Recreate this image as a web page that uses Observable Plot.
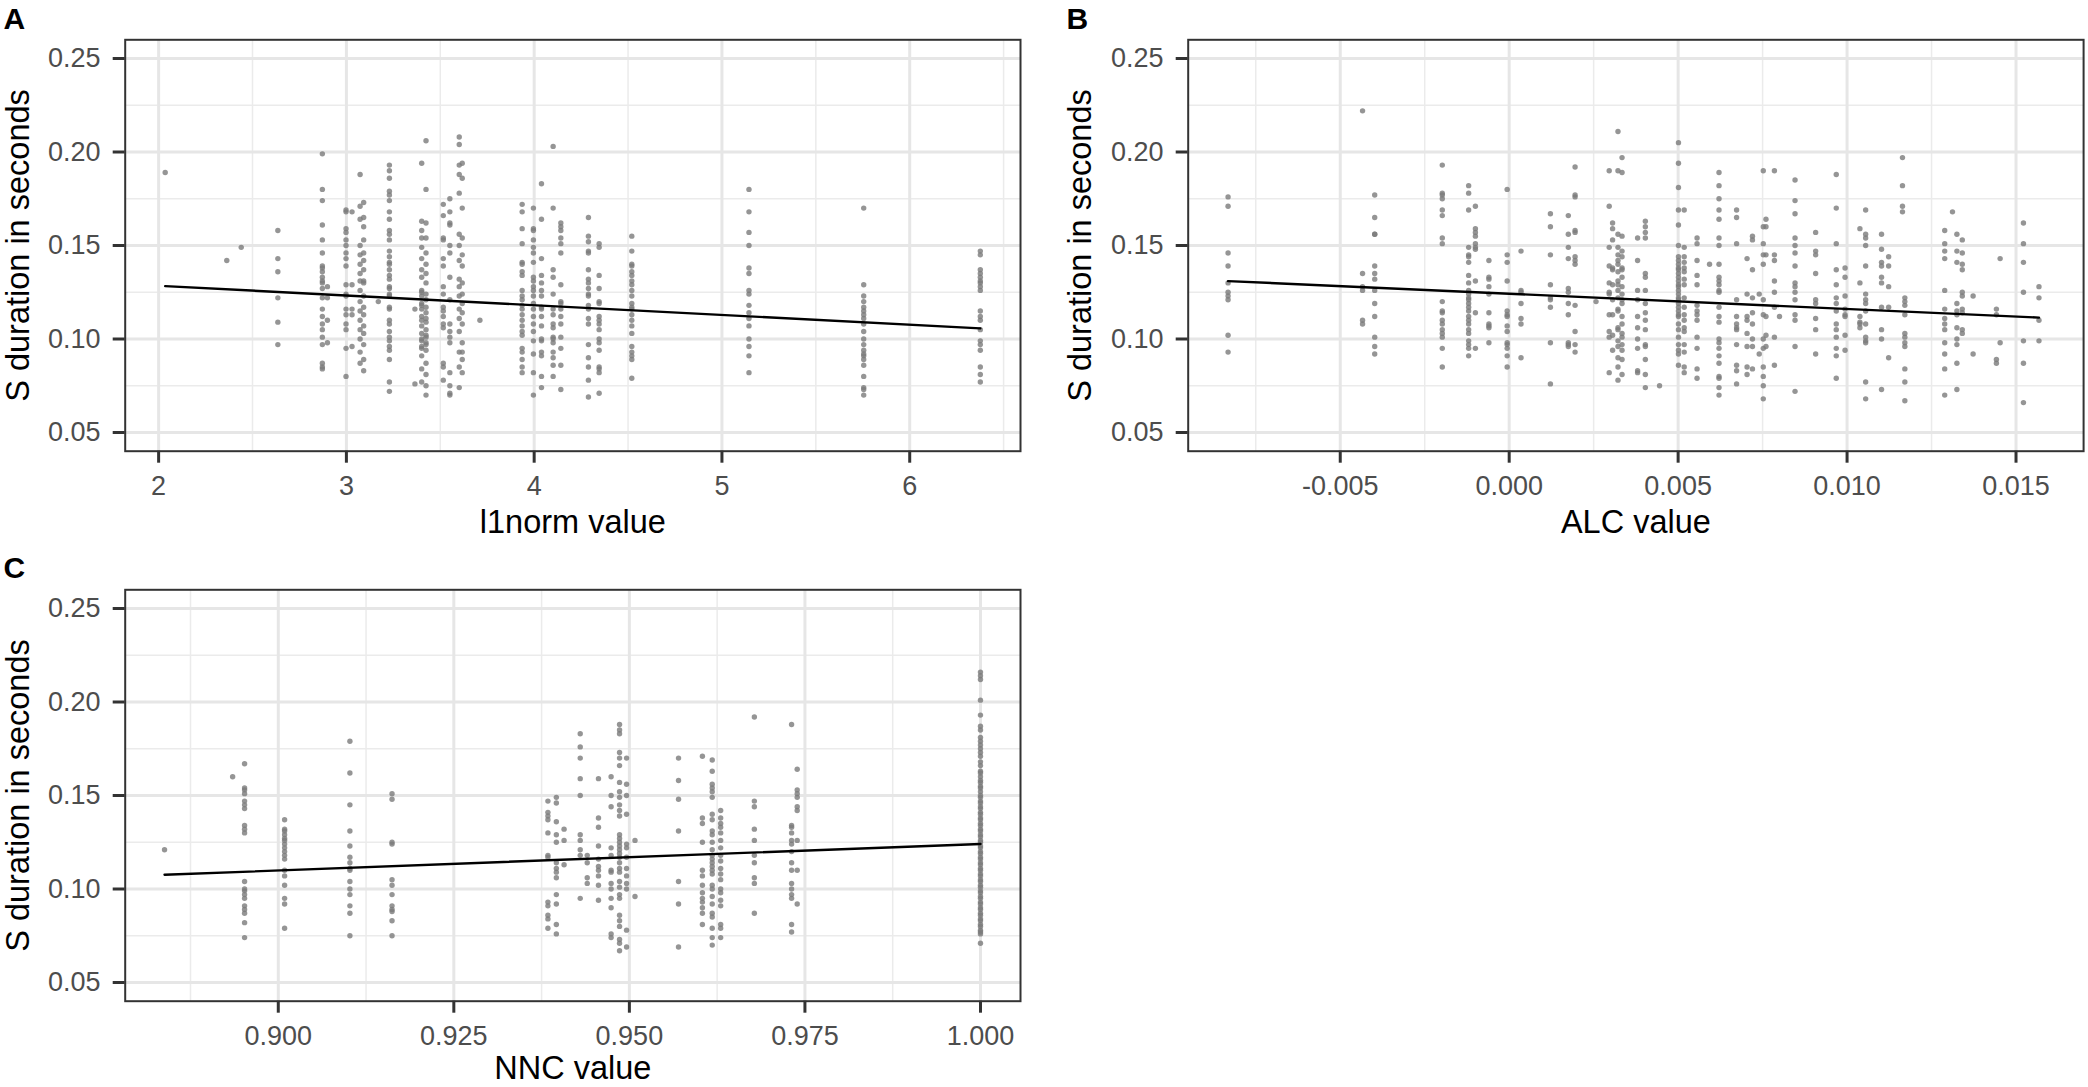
<!DOCTYPE html>
<html><head><meta charset="utf-8">
<script src="https://cdn.jsdelivr.net/npm/d3@7"></script>
<script src="https://cdn.jsdelivr.net/npm/@observablehq/plot@0.6"></script>
<style>
html,body{margin:0;padding:0;background:#fff;}
#root{position:relative;width:2088px;height:1087px;overflow:hidden;font-family:"Liberation Sans",Arial,sans-serif;}
#root svg{position:absolute;}
</style></head><body><div id="root"></div>
<script>
// ---------- shared y axis ----------
const yTitle = "S duration in seconds";
const yDomain = [0.04, 0.26];
const yTicks = [0.05, 0.10, 0.15, 0.20, 0.25];
const yMinor = [0.075, 0.125, 0.175, 0.225];

// ---------- Panel A: l1norm ----------
const l1normTitle = "l1norm value";
const l1normDomain = [1.822, 6.59];
const l1normTicks = [2, 3, 4, 5, 6];
const l1normMinor = [2.5, 3.5, 4.5, 5.5, 6.5];
const l1normFit = [0.1389, -0.00521]; // intercept, slope
const l1normX = [2.035, 2.363, 2.44, 2.635, 2.872, 2.899, 2.998, 3.03, 3.073, 3.092, 3.17, 3.229, 3.365, 3.401, 3.424, 3.516, 3.551, 3.601, 3.617, 3.711, 3.936, 3.996, 4.039, 4.101, 4.142, 4.289, 4.346, 4.52, 5.144, 5.755, 6.376];
const l1normY = [
  [0.189],
  [0.142],
  [0.149],
  [0.158, 0.143, 0.136, 0.122, 0.109, 0.097],
  [0.199, 0.180, 0.174, 0.161, 0.153, 0.146, 0.139, 0.138, 0.136, 0.133, 0.131, 0.130, 0.127, 0.122, 0.116, 0.112, 0.108, 0.105, 0.101, 0.097, 0.087, 0.085, 0.084],
  [0.128, 0.122, 0.110, 0.098],
  [0.169, 0.168, 0.159, 0.157, 0.153, 0.150, 0.146, 0.143, 0.139, 0.129, 0.124, 0.123, 0.116, 0.113, 0.108, 0.105, 0.095, 0.080],
  [0.168, 0.129, 0.116, 0.113, 0.096],
  [0.188, 0.171, 0.164, 0.150, 0.145, 0.140, 0.135, 0.131, 0.126, 0.120, 0.115, 0.110, 0.105, 0.100, 0.093, 0.087],
  [0.173, 0.165, 0.160, 0.153, 0.146, 0.142, 0.137, 0.131, 0.130, 0.123, 0.117, 0.113, 0.107, 0.103, 0.097, 0.089, 0.083],
  [0.120],
  [0.193, 0.190, 0.186, 0.179, 0.177, 0.174, 0.168, 0.164, 0.158, 0.156, 0.153, 0.147, 0.144, 0.141, 0.140, 0.137, 0.134, 0.132, 0.128, 0.127, 0.124, 0.123, 0.117, 0.116, 0.110, 0.108, 0.104, 0.101, 0.099, 0.096, 0.094, 0.089, 0.077, 0.072],
  [0.116, 0.076],
  [0.194, 0.163, 0.158, 0.154, 0.149, 0.143, 0.137, 0.133, 0.126, 0.123, 0.119, 0.116, 0.112, 0.107, 0.103, 0.100, 0.096, 0.091, 0.084, 0.077, 0.110, 0.099, 0.095, 0.118, 0.125],
  [0.206, 0.180, 0.162, 0.154, 0.146, 0.140, 0.135, 0.130, 0.124, 0.121, 0.117, 0.114, 0.109, 0.105, 0.101, 0.098, 0.094, 0.087, 0.081, 0.075, 0.070, 0.097, 0.102, 0.111],
  [0.172, 0.166, 0.154, 0.153, 0.143, 0.139, 0.128, 0.124, 0.117, 0.115, 0.112, 0.108, 0.106, 0.087, 0.085, 0.078],
  [0.175, 0.168, 0.162, 0.161, 0.150, 0.146, 0.133, 0.121, 0.108, 0.104, 0.101, 0.098, 0.082, 0.075, 0.071, 0.070],
  [0.208, 0.204, 0.193, 0.188, 0.178, 0.156, 0.150, 0.142, 0.132, 0.128, 0.123, 0.116, 0.111, 0.104, 0.093, 0.085, 0.074],
  [0.194, 0.186, 0.170, 0.154, 0.145, 0.139, 0.130, 0.124, 0.119, 0.114, 0.108, 0.098, 0.093, 0.089, 0.082],
  [0.110],
  [0.172, 0.168, 0.159, 0.151, 0.141, 0.140, 0.136, 0.134, 0.126, 0.123, 0.121, 0.118, 0.116, 0.113, 0.110, 0.107, 0.104, 0.102, 0.095, 0.093, 0.089, 0.085, 0.082],
  [0.170, 0.159, 0.158, 0.153, 0.149, 0.146, 0.141, 0.133, 0.131, 0.128, 0.126, 0.123, 0.119, 0.116, 0.112, 0.108, 0.104, 0.099, 0.092, 0.082, 0.070],
  [0.183, 0.164, 0.143, 0.134, 0.130, 0.126, 0.123, 0.117, 0.116, 0.112, 0.107, 0.100, 0.099, 0.093, 0.091, 0.080, 0.074],
  [0.203, 0.170, 0.137, 0.133, 0.124, 0.116, 0.113, 0.108, 0.106, 0.101, 0.100, 0.098, 0.093, 0.090, 0.086, 0.080],
  [0.162, 0.160, 0.158, 0.154, 0.151, 0.146, 0.129, 0.120, 0.119, 0.116, 0.112, 0.108, 0.101, 0.095, 0.086, 0.073],
  [0.165, 0.155, 0.152, 0.147, 0.146, 0.137, 0.132, 0.130, 0.127, 0.124, 0.123, 0.118, 0.116, 0.111, 0.108, 0.097, 0.090, 0.085, 0.078, 0.069],
  [0.151, 0.149, 0.134, 0.127, 0.120, 0.119, 0.112, 0.110, 0.108, 0.105, 0.100, 0.098, 0.094, 0.085, 0.084, 0.082, 0.071],
  [0.155, 0.147, 0.140, 0.139, 0.136, 0.134, 0.131, 0.129, 0.126, 0.123, 0.119, 0.117, 0.116, 0.113, 0.110, 0.107, 0.103, 0.096, 0.093, 0.091, 0.089, 0.079],
  [0.180, 0.168, 0.157, 0.150, 0.138, 0.135, 0.126, 0.124, 0.118, 0.114, 0.111, 0.107, 0.100, 0.096, 0.091, 0.082],
  [0.170, 0.129, 0.123, 0.120, 0.117, 0.115, 0.113, 0.111, 0.108, 0.104, 0.100, 0.097, 0.094, 0.092, 0.091, 0.089, 0.086, 0.080, 0.074, 0.073, 0.070],
  [0.147, 0.145, 0.137, 0.135, 0.133, 0.131, 0.130, 0.128, 0.126, 0.115, 0.112, 0.110, 0.105, 0.099, 0.097, 0.094, 0.085, 0.081, 0.077]
];

// ---------- Panel B: ALC ----------
const alcTitle = "ALC value";
const alcDomain = [-0.0095, 0.0170];
const alcTicks = [-0.005, 0, 0.005, 0.010, 0.015];
const alcMinor = [-0.0075, -0.0025, 0.0025, 0.0075, 0.0125];
const alcFit = [0.1242, -0.813];
const alcX = [-0.00832, -0.00434, -0.00398, -0.00198, -0.0012, -0.001, -0.0006, -0.00006, 0.00035, 0.00122, 0.00175, 0.00195, 0.00257, 0.00296, 0.00306, 0.00322, 0.00334, 0.0038, 0.00403, 0.00445, 0.00501, 0.00518, 0.00556, 0.00593, 0.00621, 0.00673, 0.00704, 0.0072, 0.0074, 0.00752, 0.0076, 0.00785, 0.0080, 0.00846, 0.00907, 0.00968, 0.00994, 0.01038, 0.01055, 0.01102, 0.01123, 0.01164, 0.01171, 0.01289, 0.01312, 0.01325, 0.01341, 0.01373, 0.01442, 0.01453, 0.01522, 0.01568];
const alcY = [
  [0.176, 0.171, 0.146, 0.139, 0.130, 0.125, 0.123, 0.121, 0.102, 0.093],
  [0.222, 0.135, 0.128, 0.126, 0.110, 0.108],
  [0.177, 0.165, 0.156, 0.156, 0.139, 0.135, 0.132, 0.126, 0.119, 0.112, 0.101, 0.096, 0.092],
  [0.193, 0.178, 0.177, 0.175, 0.169, 0.166, 0.154, 0.151, 0.120, 0.115, 0.114, 0.110, 0.108, 0.105, 0.103, 0.101, 0.095, 0.085],
  [0.182, 0.178, 0.169, 0.149, 0.145, 0.144, 0.141, 0.134, 0.130, 0.126, 0.124, 0.122, 0.121, 0.119, 0.117, 0.115, 0.112, 0.110, 0.108, 0.105, 0.103, 0.099, 0.097, 0.095, 0.091],
  [0.171, 0.159, 0.157, 0.155, 0.151, 0.149, 0.148, 0.131, 0.114, 0.095],
  [0.142, 0.133, 0.132, 0.128, 0.124, 0.114, 0.108, 0.107, 0.106, 0.098],
  [0.180, 0.145, 0.141, 0.131, 0.115, 0.113, 0.112, 0.107, 0.104, 0.098, 0.097, 0.095, 0.091, 0.085],
  [0.147, 0.126, 0.125, 0.119, 0.111, 0.108, 0.090],
  [0.167, 0.160, 0.145, 0.129, 0.122, 0.121, 0.117, 0.098, 0.076],
  [0.166, 0.156, 0.149, 0.143, 0.127, 0.125, 0.119, 0.113, 0.098, 0.097, 0.096],
  [0.192, 0.177, 0.176, 0.158, 0.157, 0.144, 0.142, 0.140, 0.118, 0.104, 0.097, 0.093],
  [0.120],
  [0.190, 0.171, 0.149, 0.139, 0.130, 0.125, 0.124, 0.113, 0.104, 0.101, 0.082],
  [0.162, 0.159, 0.153, 0.138, 0.137, 0.129, 0.121, 0.113, 0.102, 0.094],
  [0.211, 0.190, 0.156, 0.149, 0.145, 0.140, 0.136, 0.131, 0.126, 0.122, 0.116, 0.105, 0.099, 0.096, 0.090, 0.085, 0.078, 0.142, 0.129, 0.115, 0.106],
  [0.197, 0.189, 0.155, 0.147, 0.138, 0.133, 0.128, 0.124, 0.119, 0.112, 0.101, 0.097, 0.094, 0.089, 0.081, 0.144, 0.137, 0.121, 0.108, 0.103],
  [0.154, 0.142, 0.126, 0.121, 0.112, 0.106, 0.100, 0.095, 0.083, 0.082],
  [0.163, 0.160, 0.157, 0.154, 0.135, 0.133, 0.126, 0.119, 0.114, 0.110, 0.105, 0.097, 0.096, 0.089, 0.081, 0.074],
  [0.075],
  [0.205, 0.194, 0.181, 0.169, 0.161, 0.150, 0.144, 0.142, 0.140, 0.138, 0.137, 0.135, 0.133, 0.131, 0.129, 0.128, 0.126, 0.124, 0.122, 0.121, 0.119, 0.117, 0.115, 0.113, 0.112, 0.108, 0.105, 0.101, 0.097, 0.094, 0.092, 0.086],
  [0.169, 0.149, 0.144, 0.141, 0.138, 0.136, 0.132, 0.129, 0.122, 0.117, 0.113, 0.110, 0.106, 0.104, 0.097, 0.093, 0.085, 0.082],
  [0.154, 0.151, 0.142, 0.134, 0.129, 0.118, 0.115, 0.113, 0.110, 0.101, 0.095, 0.084, 0.079],
  [0.140],
  [0.189, 0.182, 0.175, 0.169, 0.164, 0.154, 0.150, 0.140, 0.133, 0.131, 0.129, 0.126, 0.125, 0.117, 0.112, 0.109, 0.100, 0.098, 0.095, 0.091, 0.087, 0.080, 0.079, 0.074, 0.070],
  [0.169, 0.165, 0.151, 0.121, 0.112, 0.108, 0.106, 0.105, 0.097, 0.086, 0.083, 0.076],
  [0.143, 0.124, 0.112, 0.110, 0.103, 0.096, 0.085, 0.081],
  [0.155, 0.153, 0.137, 0.122, 0.114, 0.108, 0.100, 0.096, 0.084],
  [0.124, 0.092],
  [0.190, 0.160, 0.151, 0.145, 0.140, 0.121, 0.113, 0.100, 0.095, 0.085, 0.080, 0.075, 0.068],
  [0.164, 0.160, 0.145, 0.112, 0.102, 0.096],
  [0.190, 0.145, 0.142, 0.131, 0.125, 0.117, 0.101, 0.086],
  [0.112],
  [0.185, 0.174, 0.167, 0.154, 0.150, 0.146, 0.139, 0.130, 0.128, 0.125, 0.121, 0.113, 0.110, 0.096, 0.072],
  [0.157, 0.147, 0.145, 0.135, 0.121, 0.119, 0.111, 0.105, 0.092],
  [0.188, 0.170, 0.151, 0.137, 0.129, 0.122, 0.119, 0.115, 0.108, 0.105, 0.101, 0.095, 0.091, 0.079],
  [0.138, 0.133, 0.123, 0.116, 0.113, 0.112, 0.102, 0.094],
  [0.159, 0.130, 0.112, 0.109, 0.108, 0.106],
  [0.169, 0.156, 0.154, 0.150, 0.139, 0.124, 0.121, 0.119, 0.115, 0.108, 0.101, 0.099, 0.098, 0.077, 0.068],
  [0.156, 0.148, 0.141, 0.139, 0.133, 0.130, 0.117, 0.105, 0.100, 0.073],
  [0.144, 0.139, 0.128, 0.117, 0.090],
  [0.197, 0.182, 0.171, 0.168],
  [0.122, 0.120, 0.118, 0.113, 0.103, 0.101, 0.098, 0.096, 0.084, 0.077, 0.067],
  [0.158, 0.151, 0.147, 0.143, 0.126, 0.116, 0.111, 0.108, 0.105, 0.098, 0.092, 0.084, 0.070],
  [0.168],
  [0.156, 0.147, 0.141, 0.119, 0.115, 0.113, 0.106, 0.100, 0.097, 0.087, 0.073],
  [0.153, 0.146, 0.140, 0.137, 0.125, 0.123, 0.116, 0.114, 0.105, 0.103],
  [0.123, 0.092],
  [0.116, 0.113, 0.089, 0.087],
  [0.143, 0.098],
  [0.162, 0.151, 0.141, 0.125, 0.099, 0.087, 0.066],
  [0.128, 0.122, 0.110, 0.099]
];

// ---------- Panel C: NNC ----------
const nncTitle = "NNC value";
const nncDomain = [0.8782, 1.0057];
const nncTicks = [0.900, 0.925, 0.950, 0.975, 1.000];
const nncMinor = [0.8875, 0.9125, 0.9375, 0.9625, 0.9875];
const nncFit = [-0.0179, 0.142];
const nncX = [0.8838, 0.8935, 0.8952, 0.9009, 0.9102, 0.9162, 0.9384, 0.9396, 0.9407, 0.943, 0.944, 0.9456, 0.9474, 0.9486, 0.9496, 0.9508, 0.957, 0.9604, 0.9618, 0.963, 0.9678, 0.9731, 0.9739, 1.0];
const nncY = [
  [0.121],
  [0.160],
  [0.167, 0.154, 0.153, 0.151, 0.147, 0.145, 0.143, 0.134, 0.132, 0.130, 0.104, 0.100, 0.099, 0.097, 0.095, 0.091, 0.089, 0.087, 0.082, 0.074],
  [0.137, 0.132, 0.131, 0.129, 0.127, 0.126, 0.124, 0.122, 0.120, 0.118, 0.116, 0.110, 0.107, 0.102, 0.095, 0.092, 0.079],
  [0.179, 0.162, 0.145, 0.131, 0.123, 0.117, 0.114, 0.111, 0.110, 0.104, 0.100, 0.097, 0.091, 0.087, 0.075],
  [0.151, 0.148, 0.125, 0.124, 0.105, 0.102, 0.097, 0.091, 0.089, 0.088, 0.083, 0.075],
  [0.147, 0.141, 0.139, 0.137, 0.130, 0.118, 0.117, 0.093, 0.091, 0.086, 0.084, 0.079],
  [0.149, 0.146, 0.136, 0.129, 0.125, 0.114, 0.111, 0.109, 0.106, 0.097, 0.092, 0.081, 0.076],
  [0.132, 0.126, 0.113],
  [0.183, 0.176, 0.170, 0.159, 0.150, 0.129, 0.126, 0.121, 0.118, 0.095],
  [0.118, 0.114, 0.106, 0.103],
  [0.159, 0.138, 0.133, 0.123, 0.116, 0.112, 0.110, 0.107, 0.102, 0.094],
  [0.160, 0.150, 0.144, 0.122, 0.118, 0.110, 0.109, 0.103, 0.100, 0.095, 0.090, 0.076, 0.074],
  [0.188, 0.185, 0.183, 0.173, 0.170, 0.166, 0.157, 0.152, 0.149, 0.145, 0.142, 0.139, 0.129, 0.127, 0.125, 0.123, 0.121, 0.119, 0.117, 0.114, 0.111, 0.109, 0.104, 0.101, 0.097, 0.095, 0.086, 0.083, 0.080, 0.073, 0.071, 0.067],
  [0.170, 0.156, 0.150, 0.140, 0.124, 0.122, 0.117, 0.111, 0.107, 0.103, 0.100, 0.078, 0.069],
  [0.126, 0.096],
  [0.170, 0.158, 0.148, 0.131, 0.104, 0.092, 0.069],
  [0.171, 0.138, 0.135, 0.125, 0.110, 0.107, 0.102, 0.098, 0.095, 0.093, 0.090, 0.087, 0.081],
  [0.169, 0.163, 0.156, 0.154, 0.152, 0.149, 0.140, 0.137, 0.131, 0.129, 0.125, 0.121, 0.118, 0.116, 0.114, 0.112, 0.110, 0.108, 0.102, 0.100, 0.096, 0.092, 0.087, 0.085, 0.079, 0.074, 0.070],
  [0.142, 0.138, 0.135, 0.133, 0.130, 0.126, 0.122, 0.118, 0.115, 0.111, 0.108, 0.105, 0.100, 0.098, 0.094, 0.091, 0.081, 0.079, 0.074],
  [0.192, 0.147, 0.144, 0.132, 0.126, 0.118, 0.114, 0.106, 0.103, 0.087],
  [0.188, 0.134, 0.133, 0.130, 0.126, 0.124, 0.120, 0.114, 0.110, 0.103, 0.100, 0.097, 0.095, 0.081, 0.077],
  [0.164, 0.153, 0.151, 0.149, 0.144, 0.142, 0.126, 0.110, 0.092],
  [0.216, 0.214, 0.212, 0.201, 0.193, 0.187, 0.185, 0.181, 0.179, 0.177, 0.175, 0.173, 0.171, 0.168, 0.166, 0.163, 0.162, 0.160, 0.158, 0.157, 0.155, 0.154, 0.152, 0.150, 0.149, 0.147, 0.146, 0.144, 0.143, 0.141, 0.140, 0.138, 0.137, 0.135, 0.134, 0.132, 0.131, 0.129, 0.128, 0.126, 0.125, 0.123, 0.122, 0.120, 0.119, 0.117, 0.116, 0.114, 0.113, 0.111, 0.110, 0.108, 0.107, 0.105, 0.104, 0.102, 0.101, 0.099, 0.098, 0.096, 0.095, 0.093, 0.092, 0.090, 0.089, 0.087, 0.086, 0.084, 0.083, 0.081, 0.080, 0.078, 0.077, 0.076, 0.071]
];

// ---------- drawing ----------
const root = document.getElementById("root");
const FONT = "'Liberation Sans', Arial, Helvetica, sans-serif";
const S = 1.0; // horizontal scale factor

function panel(o) {
  const w = o.cssWidth / S;
  const ml = o.frameLeft / S;
  const fw = o.frameWidth / S;
  const mr = w - ml - fw;
  const mb = o.cssHeight - o.frameTop - o.frameHeight;
  const points = o.xs.flatMap((x, i) => o.ys[i].map(y => ({x, y})));
  const ext = d3.extent(o.xs);
  const fitLine = ext.map(x => ({x, y: o.fit[0] + o.fit[1] * x}));
  const svg = Plot.plot({
    width: w, height: o.cssHeight,
    marginLeft: ml, marginRight: mr, marginTop: o.frameTop, marginBottom: mb,
    style: {fontFamily: FONT, background: "transparent", overflow: "visible"},
    x: {domain: o.xDomain, label: null},
    y: {domain: yDomain, label: null},
    marks: [
      Plot.ruleX(o.xMinor, {stroke: "#ebebeb", strokeWidth: 1.5 / S}),
      Plot.ruleY(yMinor, {stroke: "#ebebeb", strokeWidth: 1.5}),
      Plot.ruleX(o.xTicks, {stroke: "#e6e6e6", strokeWidth: 3 / S}),
      Plot.ruleY(yTicks, {stroke: "#e6e6e6", strokeWidth: 3}),
      Plot.dot(points, {x: "x", y: "y", r: 2.7, fill: "#7a7a7a", fillOpacity: 0.8}),
      Plot.line(fitLine, {x: "x", y: "y", stroke: "#000", strokeWidth: 2.4}),
      Plot.frame({stroke: "#333333", strokeWidth: 2}),
      Plot.axisX(o.xTicks, {tickSize: 12, tickPadding: 12.3, stroke: "#333333", strokeWidth: 3 / S,
        fill: "#4d4d4d", fontSize: 27, fontFamily: FONT, tickFormat: o.xFormat, label: null}),
      Plot.axisY(yTicks, {tickSize: 12 / S, tickPadding: 12.7 / S, stroke: "#333333", strokeWidth: 3,
        fill: "#4d4d4d", fontSize: 27, fontFamily: FONT, tickFormat: d => d.toFixed(2), label: null}),
      Plot.text([o.xTitle], {text: d => d, frameAnchor: "bottom", textAnchor: "middle", lineAnchor: "bottom", dy: o.titleDy,
        fontSize: 32.5, fontFamily: FONT, fill: "#000"}),
      Plot.text([yTitle], {text: d => d, frameAnchor: "left", textAnchor: "middle", rotate: -90, lineAnchor: "bottom",
        dx: (28 - o.frameLeft) / S, fontSize: 32.5, fontFamily: FONT, fill: "#000"}),
      Plot.text([o.letter], {text: d => d, frameAnchor: "top-left", textAnchor: "start", lineAnchor: "bottom",
        dx: (3 - o.frameLeft) / S, dy: 28 - o.frameTop, fontSize: 30, fontWeight: "bold", fontFamily: FONT, fill: "#000"})
    ]
  });
  svg.setAttribute("width", o.cssWidth);
  svg.setAttribute("height", o.cssHeight);
  svg.setAttribute("preserveAspectRatio", "none");
  svg.style.left = o.left + "px";
  svg.style.top = o.top + "px";
  svg.style.width = o.cssWidth + "px";
  svg.style.height = o.cssHeight + "px";
  svg.style.maxWidth = "none";
  root.appendChild(svg);
}

panel({left: 0, top: 0, cssWidth: 1044, cssHeight: 540, frameLeft: 124.7, frameWidth: 895.3, frameTop: 39.3, frameHeight: 411.4,
  xDomain: l1normDomain, xTicks: l1normTicks, xMinor: l1normMinor, xFormat: d => String(d),
  xs: l1normX, ys: l1normY, fit: l1normFit, xTitle: l1normTitle, letter: "A", titleDy: 82});
panel({left: 1062.6, top: 0, cssWidth: 1025.4, cssHeight: 540, frameLeft: 124.7, frameWidth: 895.4, frameTop: 39.3, frameHeight: 411.4,
  xDomain: alcDomain, xTicks: alcTicks, xMinor: alcMinor, xFormat: d => d.toFixed(3),
  xs: alcX, ys: alcY, fit: alcFit, xTitle: alcTitle, letter: "B", titleDy: 82});
panel({left: 0, top: 549.7, cssWidth: 1044, cssHeight: 537.3, frameLeft: 124.7, frameWidth: 895.3, frameTop: 39.3, frameHeight: 411.4,
  xDomain: nncDomain, xTicks: nncTicks, xMinor: nncMinor, xFormat: d => d.toFixed(3),
  xs: nncX, ys: nncY, fit: nncFit, xTitle: nncTitle, letter: "C", titleDy: 78});
</script></body></html>
